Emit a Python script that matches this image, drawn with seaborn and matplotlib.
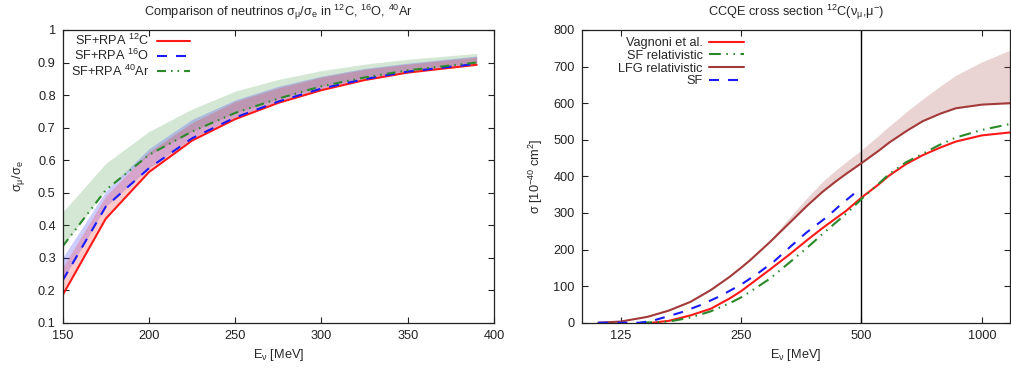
import matplotlib
matplotlib.use("Agg")
import matplotlib.pyplot as plt
import seaborn as sns
import numpy as np
import pandas as pd
from matplotlib.ticker import FixedLocator, FixedFormatter, NullLocator

# ---------------- Left panel data ----------------
E_left = [150, 175, 200, 225, 250, 275, 300, 325, 350, 390]
ratio_C12 = [0.185, 0.420, 0.563, 0.660, 0.726, 0.776, 0.815, 0.846, 0.869, 0.893]
ratio_C12_hi = [0.270, 0.490, 0.625, 0.715, 0.780, 0.822, 0.855, 0.879, 0.895, 0.917]
ratio_O16 = [0.230, 0.457, 0.575, 0.667, 0.731, 0.780, 0.820, 0.849, 0.872, 0.896]
ratio_O16_hi = [0.300, 0.505, 0.635, 0.725, 0.785, 0.827, 0.858, 0.882, 0.898, 0.920]
ratio_Ar40 = [0.335, 0.508, 0.616, 0.688, 0.745, 0.789, 0.827, 0.854, 0.876, 0.900]
ratio_Ar40_hi = [0.440, 0.590, 0.688, 0.757, 0.812, 0.848, 0.875, 0.895, 0.910, 0.928]
left_xticks = [150, 200, 250, 300, 350, 400]
left_yticks = [0.1, 0.2, 0.3, 0.4, 0.5, 0.6, 0.7, 0.8, 0.9, 1.0]
left_yticklabels = ["0.1", "0.2", "0.3", "0.4", "0.5", "0.6", "0.7", "0.8", "0.9", "1"]

# ---------------- Right panel data ----------------
E_vag = [150, 165, 187, 210, 234, 250, 263, 295, 330, 366, 400, 458, 500, 552, 586, 645, 712, 780, 860, 1000, 1175]
xs_vag = [0, 5, 20, 38, 66, 86, 104, 145, 186, 226, 259, 306, 342, 378, 402, 433, 458, 477, 495, 512, 520]
E_sfrel = [140, 165, 187, 210, 234, 250, 263, 295, 330, 366, 400, 458, 500, 552, 586, 645, 712, 780, 860, 1000, 1175]
xs_sfrel = [0, 3, 14, 31, 53, 69, 84, 120, 164, 205, 243, 298, 338, 380, 406, 438, 462, 485, 506, 527, 543]
E_lfg = [110, 125, 146, 165, 187, 210, 234, 250, 263, 295, 330, 366, 400, 430, 458, 500, 552, 586, 650, 712, 790, 860, 1000, 1175]
xs_lfg = [0, 3, 16, 33, 57, 89, 125, 150, 170, 220, 272, 320, 358, 385, 407, 436, 470, 492, 525, 551, 572, 586, 596, 600]
xs_lfg_hi = [0, 3, 16, 33, 57, 89, 125, 150, 170, 225, 287, 342, 386, 416, 440, 472, 512, 537, 578, 612, 648, 676, 713, 745]
E_sf = [110, 140, 150, 177, 198, 221, 250, 274, 302, 330, 363, 411, 443, 476, 490]
xs_sf = [0, 0, 5, 28, 48, 72, 104, 133, 167, 205, 245, 290, 322, 350, 362]
right_xticks = [125, 250, 500, 1000]
right_yticks = [0, 100, 200, 300, 400, 500, 600, 700, 800]

# ---------------- Style ----------------
sns.set_theme(style="ticks")
plt.rcParams["font.family"] = ["Liberation Sans", "DejaVu Sans"]
plt.rcParams["mathtext.fontset"] = "custom"
plt.rcParams["mathtext.rm"] = "Liberation Sans"
plt.rcParams["mathtext.it"] = "Liberation Sans:italic"
plt.rcParams["mathtext.default"] = "regular"
plt.rcParams["lines.scale_dashes"] = False

FS = 9.2
RED = "#ff1a1a"
BLUE = "#1a1aff"
GREEN = "#2a8a2a"
BROWN = "#a33a3a"

fig = plt.figure(figsize=(10.11, 3.69), dpi=100)
axL = fig.add_axes([0.0620, 0.1255, 0.4266, 0.7932])
axR = fig.add_axes([0.5754, 0.1255, 0.4236, 0.7932])

def style_axes(ax):
    for s in ax.spines.values():
        s.set_color("#222222")
        s.set_linewidth(0.9)
        s.set_visible(True)
    ax.tick_params(direction="in", length=4, width=0.8, top=True, right=True,
                   labelsize=FS, colors="#222222", pad=5)
    ax.set_facecolor("white")

# ---------------- Left panel ----------------
axL.fill_between(E_left, ratio_Ar40, ratio_Ar40_hi, color=GREEN, alpha=0.2, linewidth=0)
axL.fill_between(E_left, ratio_O16, ratio_O16_hi, color=BLUE, alpha=0.22, linewidth=0)
axL.fill_between(E_left, ratio_C12, ratio_C12_hi, color=RED, alpha=0.22, linewidth=0)

dl = pd.DataFrame({"E": E_left, "C": ratio_C12, "O": ratio_O16, "Ar": ratio_Ar40})
sns.lineplot(data=dl, x="E", y="C", ax=axL, color=RED, lw=1.5, label="SF+RPA $^{12}$C")
sns.lineplot(data=dl, x="E", y="O", ax=axL, color=BLUE, lw=1.5, label="SF+RPA $^{16}$O")
sns.lineplot(data=dl, x="E", y="Ar", ax=axL, color=GREEN, lw=1.5, label="SF+RPA $^{40}$Ar")
axL.lines[1].set_dashes([7.2, 6.5])
axL.lines[2].set_dashes([6.5, 3.6, 1.1, 3.6, 1.1, 3.6])

axL.set_xlim(150, 400)
axL.set_ylim(0.1, 1.0)
axL.xaxis.set_major_locator(FixedLocator(left_xticks))
axL.yaxis.set_major_locator(FixedLocator(left_yticks))
axL.yaxis.set_major_formatter(FixedFormatter(left_yticklabels))
style_axes(axL)
axL.set_xlabel("E$_ν$ [MeV]", fontsize=FS, labelpad=4)
axL.set_ylabel("σ$_μ$/σ$_e$", fontsize=FS, labelpad=8)
axL.set_title("Comparison of neutrinos σ$_μ$/σ$_e$ in $^{12}$C, $^{16}$O, $^{40}$Ar",
              fontsize=FS, pad=10)
axL.legend(loc="upper left", bbox_to_anchor=(0.0185, 0.99), frameon=False,
           markerfirst=False, fontsize=FS, handlelength=2.6, handletextpad=0.6,
           labelspacing=0.0, borderpad=0, borderaxespad=0)

# ---------------- Right panel ----------------
axR.fill_between(E_lfg, xs_lfg, xs_lfg_hi, color=BROWN, alpha=0.22, linewidth=0)
axR.axvline(500, color="black", lw=1.0)

dv = pd.DataFrame({"E": E_vag, "s": xs_vag})
dsr = pd.DataFrame({"E": E_sfrel, "s": xs_sfrel})
dlfg = pd.DataFrame({"E": E_lfg, "s": xs_lfg})
dsf = pd.DataFrame({"E": E_sf, "s": xs_sf})
sns.lineplot(data=dv, x="E", y="s", ax=axR, color=RED, lw=1.5, label="Vagnoni et al.")
sns.lineplot(data=dsr, x="E", y="s", ax=axR, color=GREEN, lw=1.5, label="SF relativistic")
sns.lineplot(data=dlfg, x="E", y="s", ax=axR, color=BROWN, lw=1.5, label="LFG relativistic")
sns.lineplot(data=dsf, x="E", y="s", ax=axR, color=BLUE, lw=1.5, label="SF")
for l in axR.lines:
    if l.get_label() == "SF":
        l.set_dashes([7.2, 6.5])
    elif l.get_label() == "SF relativistic":
        l.set_dashes([8.5, 4, 1.1, 4, 1.1, 4])

axR.set_xscale("log")
axR.set_xlim(100, 1175)
axR.set_ylim(0, 800)
axR.xaxis.set_major_locator(FixedLocator(right_xticks))
axR.xaxis.set_major_formatter(FixedFormatter([str(v) for v in right_xticks]))
axR.xaxis.set_minor_locator(NullLocator())
axR.yaxis.set_major_locator(FixedLocator(right_yticks))
style_axes(axR)
axR.set_xlabel("E$_ν$ [MeV]", fontsize=FS, labelpad=4)
axR.set_ylabel("σ [10$^{-40}$ cm$^2$]", fontsize=FS, labelpad=6)
axR.set_title("CCQE cross section $^{12}$C(ν$_μ$,μ$^{-}$)", fontsize=FS, pad=10)
axR.legend(loc="upper left", bbox_to_anchor=(0.085, 0.975), frameon=False,
           markerfirst=False, fontsize=FS, handlelength=2.7, handletextpad=0.5,
           labelspacing=0.05, borderpad=0, borderaxespad=0)

fig.savefig("out.png", dpi=100, facecolor="white")
